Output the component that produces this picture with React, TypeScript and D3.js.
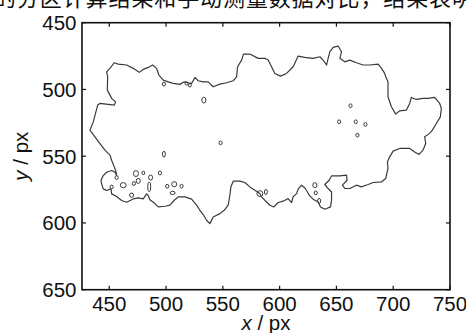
import React from 'react';
import * as d3 from 'd3';

// Outline of the segmented region (data units: px)
const outlineX = [
  433.0, 435.9, 439.8, 441.8, 454.4, 455.6, 452.1, 448.3, 448.6, 447.7, 450.6, 454.4, 457.9, 465.3, 471.1, 476.4,
  479.9, 484.3, 488.2, 491.7, 493.7, 497.5, 501.9, 506.3, 512.2, 516.0, 519.5, 522.5, 525.4, 528.3, 532.7, 537.1,
  541.5, 547.4, 553.3, 559.1, 562.1, 563.0, 566.5, 568.2, 573.8, 581.1, 587.0,
  589.9, 592.9, 595.8, 600.8, 606.1, 611.9, 616.3, 622.2, 629.5, 635.4, 638.3, 641.3, 642.7, 644.2, 647.1, 651.5,
  654.5, 653.0, 657.4, 661.8, 667.7, 673.5, 679.4, 686.7, 689.7, 692.5, 693.4, 695.4, 695.4, 695.4, 698.4, 702.2,
  705.7, 711.6, 714.5, 716.0, 720.4, 726.2, 730.6, 736.5, 740.9, 742.4, 741.5, 738.0, 734.5,
  732.1, 727.7, 728.6, 726.2, 722.7, 718.9, 714.5, 705.7, 699.9, 696.9, 694.9, 695.4, 693.4, 689.6, 682.3, 677.9,
  672.0, 667.6, 661.8, 657.4, 655.3, 659.4, 658.9, 653.0, 645.7, 643.6, 639.8, 642.7, 645.7, 645.7, 644.8, 639.8,
  636.0, 633.9, 629.5, 626.0, 624.5, 622.2, 619.3, 616.3, 614.9, 611.9, 610.5, 607.5, 603.1, 598.7, 594.9, 591.4,
  588.5, 584.1, 582.6, 578.2, 573.8, 569.4, 565.0, 559.1, 557.1, 556.2, 554.7, 551.2, 547.4, 541.5, 538.6, 535.7,
  532.7, 529.8, 526.9, 522.5, 516.6, 510.7, 507.2, 503.4, 499.0, 493.1, 490.2, 485.8, 484.3, 482.9, 479.9, 475.5,
  471.1, 465.3, 460.9, 456.5, 452.1, 451.5, 447.7, 444.7, 443.3, 442.7, 444.7, 447.7, 452.1, 455.0, 456.5, 455.6,
  454.4, 452.1, 450.6, 446.2, 441.8, 437.4,
];
const outlineY = [
  530.5, 524.3, 511.7, 510.5, 511.7, 509.3, 506.7, 500.5, 490.5, 486.8, 484.2, 480.0, 481.0, 481.7, 484.2, 487.2,
  485.0, 483.5, 481.7, 484.2, 489.2, 493.0, 494.3, 495.5, 496.2, 494.3, 495.0, 495.5, 491.0, 493.5, 494.3, 494.3,
  498.0, 496.0, 495.0, 493.5, 490.5, 483.0, 478.0, 473.5, 473.5, 476.7, 476.7,
  478.0, 483.0, 488.0, 490.0, 488.0, 483.0, 475.0, 476.0, 476.7, 475.5, 478.0, 481.7, 476.7, 471.8, 468.5, 467.5,
  471.8, 476.7, 479.3, 478.0, 480.0, 481.7, 481.7, 481.0, 484.2, 488.0, 490.5, 494.3, 500.5, 505.5, 513.0, 518.5,
  516.0, 515.5, 510.5, 506.0, 507.5, 506.7, 506.7, 506.0, 510.5, 514.2, 520.5, 525.5, 530.5,
  532.9, 535.5, 540.5, 545.5, 548.7, 546.8, 544.2, 544.2, 546.2, 550.5, 554.3, 559.2, 566.7, 569.3, 569.7, 571.2,
  573.0, 571.7, 574.2, 574.2, 571.7, 568.0, 564.2, 564.8, 564.8, 568.0, 571.2, 574.2, 576.8, 583.0, 588.0, 589.7,
  588.0, 584.3, 582.2, 579.2, 576.8, 573.8, 571.7, 574.7, 578.0, 580.5, 584.7, 581.7, 583.7, 584.7, 588.0, 586.7,
  584.3, 580.5, 578.0, 575.5, 573.0, 569.7, 568.7, 568.7, 573.0, 579.2, 586.7, 590.5, 593.0, 595.5, 600.5, 598.0,
  593.7, 590.5, 586.7, 582.2, 580.5, 580.5, 583.0, 586.7, 587.5, 588.0, 585.5, 582.7, 579.5, 578.2, 582.0, 581.2,
  582.0, 584.5, 583.2, 580.2, 578.2, 574.5, 575.7, 574.5, 570.7, 568.2, 564.5, 562.0, 560.7, 562.0, 564.5, 560.7,
  558.0, 553.0, 549.2, 545.5, 540.5, 535.5,
];

// Small isolated regions: centre and half-extent (data units: px)
const blobX = [498.1, 533.3, 548.0, 498.1, 494.6, 473.5, 480.0, 475.5, 471.7, 486.4, 485.2, 462.3, 456.5, 469.7,
  501.0, 507.2, 513.7, 505.8, 452.1, 582.6, 587.9, 662.4, 652.4, 667.0, 675.5, 668.5, 631.0, 631.8, 634.8, 518.0, 521.0];
const blobY = [496.0, 508.0, 540.0, 548.5, 562.5, 563.0, 562.5, 568.5, 570.5, 566.0, 573.0, 571.7, 566.0, 579.2,
  572.5, 571.0, 572.5, 577.5, 573.0, 578.0, 576.8, 512.2, 524.2, 524.2, 526.2, 534.2, 571.7, 577.5, 583.5, 495.5, 496.8];
const blobRX = [1.4, 1.8, 1.4, 1.3, 1.4, 2.2, 1.3, 1.8, 1.4, 1.8, 1.3, 2.6, 1.4, 1.8,
  1.4, 2.2, 1.4, 2.2, 1.4, 2.6, 1.3, 1.4, 1.4, 1.4, 1.4, 1.4, 1.8, 1.4, 1.3, 1.3, 1.3];
const blobRY = [1.4, 2.2, 1.4, 2.2, 1.4, 2.2, 1.3, 1.9, 1.4, 1.9, 3.7, 1.9, 1.4, 1.6,
  1.4, 1.9, 1.4, 1.2, 1.4, 2.2, 1.9, 1.4, 1.4, 1.4, 1.4, 1.4, 1.9, 1.4, 1.9, 1.3, 1.3];

const xTicks = [450, 500, 550, 600, 650, 700, 750];
const yTicks = [450, 500, 550, 600, 650];
const xDomain = [426, 750];
const yDomain = [450, 650];
const caption = '的分区计算结果和手动测量数据对比，结果表明';

const FONT = "'Liberation Sans Narrow', 'Arial Narrow', 'Liberation Sans', Arial, sans-serif";

export default function App() {
  const W = 466;
  const H = 333;
  const left = 82;
  const right = 450;
  const top = 22.7;
  const bottom = 289.7;
  const x = d3.scaleLinear().domain(xDomain).range([left, right]);
  const y = d3.scaleLinear().domain(yDomain).range([top, bottom]);
  const idx = d3.range(outlineX.length);
  const outline = d3
    .line<number>()
    .x((i) => x(outlineX[i]))
    .y((i) => y(outlineY[i]))
    .curve(d3.curveLinearClosed)(idx) as string;
  const tickLen = 4;

  return (
    <svg
      width={W}
      height={H}
      viewBox={`0 0 ${W} ${H}`}
      style={{ position: 'fixed', left: 0, top: 0, background: '#fff' }}
    >
      <rect x={0} y={0} width={W} height={H} fill="#fff" />
      <text x={-6} y={6} fontFamily="'Noto Sans CJK SC', sans-serif" fontSize={22} fill="#111" textLength={480}>
        {caption}
      </text>

      <path d={outline} fill="none" stroke="#3a3a3a" strokeWidth={1.2} strokeLinejoin="round" />
      {blobX.map((bx, i) => (
        <ellipse
          key={i}
          cx={x(bx)}
          cy={y(blobY[i])}
          rx={x(bx + blobRX[i]) - x(bx)}
          ry={y(blobY[i] + blobRY[i]) - y(blobY[i])}
          fill="none"
          stroke="#3a3a3a"
          strokeWidth={1}
        />
      ))}

      <rect x={left} y={top} width={right - left} height={bottom - top} fill="none" stroke="#111" strokeWidth={1.6} />
      {xTicks.map((t) => (
        <g key={'x' + t}>
          <line x1={x(t)} x2={x(t)} y1={bottom} y2={bottom - tickLen} stroke="#111" strokeWidth={1.2} />
          <line x1={x(t)} x2={x(t)} y1={top} y2={top + tickLen} stroke="#111" strokeWidth={1.2} />
          <text x={x(t)} y={bottom + 21.5} textAnchor="middle" fontFamily={FONT} fontSize={20.5} fill="#111">
            {t}
          </text>
        </g>
      ))}
      {yTicks.map((t) => (
        <g key={'y' + t}>
          <line x1={left} x2={left + tickLen} y1={y(t)} y2={y(t)} stroke="#111" strokeWidth={1.2} />
          <line x1={right} x2={right - tickLen} y1={y(t)} y2={y(t)} stroke="#111" strokeWidth={1.2} />
          <text x={left - 5.5} y={y(t) + 7.3} textAnchor="end" fontFamily={FONT} fontSize={20.5} fill="#111">
            {t}
          </text>
        </g>
      ))}
      <text x={(left + right) / 2} y={330} textAnchor="middle" fontFamily={FONT} fontSize={20.5} fill="#111">
        <tspan fontStyle="italic">x</tspan> / px
      </text>
      <text
        transform={`translate(28, ${(top + bottom) / 2}) rotate(-90)`}
        textAnchor="middle"
        fontFamily={FONT}
        fontSize={20.5}
        fill="#111"
      >
        <tspan fontStyle="italic">y</tspan> / px
      </text>
    </svg>
  );
}
